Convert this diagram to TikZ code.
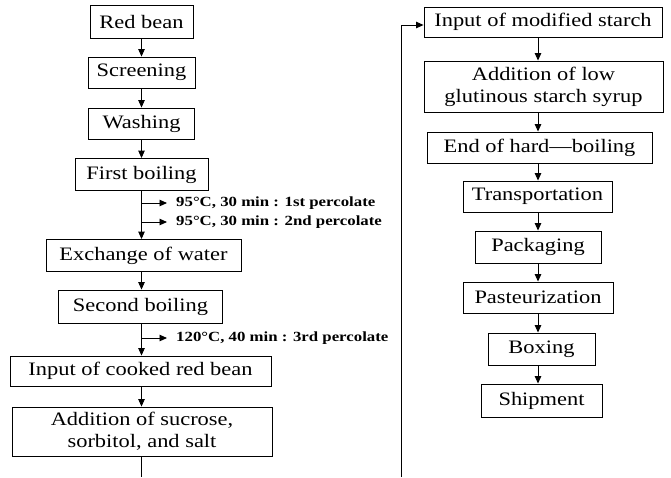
\documentclass[tikz,border=0pt]{standalone}
\usepackage{fontspec}
\setmainfont[FakeStretch=1.18]{Liberation Serif}
\newfontfamily\lblfont[FakeStretch=1.2]{Liberation Serif}
\usetikzlibrary{arrows.meta}
\begin{document}
\begin{tikzpicture}[x=1pt,y=-1pt,
  box/.style={draw, line width=0.9pt, inner sep=0pt, align=center,
    font=\fontsize{19}{22}\selectfont},
  lbl/.style={anchor=west, inner sep=0pt, font=\lblfont\bfseries\fontsize{14}{16}\selectfont},
  arr/.style={line width=0.9pt, -{Triangle[length=7.5pt,width=6.5pt]}},
  ln/.style={line width=0.9pt}]
\useasboundingbox (0,0) rectangle (671,477);
% left column
\node[box, minimum width=103, minimum height=33] (rb) at (141.5,21.5) {Red bean};
\node[box, minimum width=107, minimum height=31] (scr) at (141.5,72.5) {Screening};
\node[box, minimum width=106, minimum height=31] (wash) at (141.5,123.5) {Washing};
\node[box, minimum width=133, minimum height=32] (fb) at (141.5,174.5) {First boiling};
\node[box, minimum width=195, minimum height=32] (ex) at (143.5,255.5) {Exchange of water};
\node[box, minimum width=164, minimum height=33] (sb) at (140.5,306.5) {Second boiling};
\node[box, minimum width=261, minimum height=30] (ic) at (140.5,371) {Input of cooked red bean};
\node[box, minimum width=260, minimum height=49] (add) at (142,431.5) {Addition of sucrose,\\sorbitol, and salt};
% side labels
\node[lbl] (t1) at (176,203) {95°C, 30 min : 1st percolate};
\node[lbl] (t2) at (176,222) {95°C, 30 min : 2nd percolate};
\node[lbl] (t3) at (176,338) {120°C, 40 min : 3rd percolate};
\coordinate (b1) at (141.5,203);
\coordinate (b2) at (141.5,222);
\coordinate (b3) at (141.5,338);
\coordinate (bl) at (141.5,477);
% right column
\node[box, minimum width=238, minimum height=30] (ms) at (543,22) {Input of modified starch};
\node[box, minimum width=239, minimum height=51] (lg) at (543.5,86.5) {Addition of low\\glutinous starch syrup};
\node[box, minimum width=225, minimum height=31] (hb) at (539.5,147.5) {End of hard\textemdash boiling};
\node[box, minimum width=149, minimum height=31] (tr) at (537.5,196.5) {Transportation};
\node[box, minimum width=126, minimum height=32] (pk) at (538,247) {Packaging};
\node[box, minimum width=150, minimum height=31] (ps) at (538,297.5) {Pasteurization};
\node[box, minimum width=107, minimum height=32] (bx) at (541.5,349) {Boxing};
\node[box, minimum width=121, minimum height=33] (sh) at (541.5,400.5) {Shipment};
\coordinate (br) at (401,477);
\coordinate (bc) at (401,25);
\coordinate (rc) at (538,0);
\coordinate (lc) at (141.5,0);
% connectors left
\draw[arr] (rb.south -| lc) -- (scr.north -| lc);
\draw[arr] (scr.south -| lc) -- (wash.north -| lc);
\draw[arr] (wash.south -| lc) -- (fb.north -| lc);
\draw[arr] (fb.south -| lc) -- (ex.north -| lc);
\draw[arr, shorten >=9pt] (b1) -- (t1.west);
\draw[arr, shorten >=9pt] (b2) -- (t2.west);
\draw[arr] (ex.south -| lc) -- (sb.north -| lc);
\draw[arr] (sb.south -| lc) -- (ic.north -| lc);
\draw[arr, shorten >=9pt] (b3) -- (t3.west);
\draw[arr] (ic.south -| lc) -- (add.north -| lc);
\draw[ln] (add.south -| lc) -- (bl);
% connectors right
\draw[arr] (br) -- (bc) -- (ms.west |- bc);
\draw[arr] (ms.south -| rc) -- (lg.north -| rc);
\draw[arr] (lg.south -| rc) -- (hb.north -| rc);
\draw[arr] (hb.south -| rc) -- (tr.north -| rc);
\draw[arr] (tr.south -| rc) -- (pk.north -| rc);
\draw[arr] (pk.south -| rc) -- (ps.north -| rc);
\draw[arr] (ps.south -| rc) -- (bx.north -| rc);
\draw[arr] (bx.south -| rc) -- (sh.north -| rc);
\end{tikzpicture}
\end{document}
